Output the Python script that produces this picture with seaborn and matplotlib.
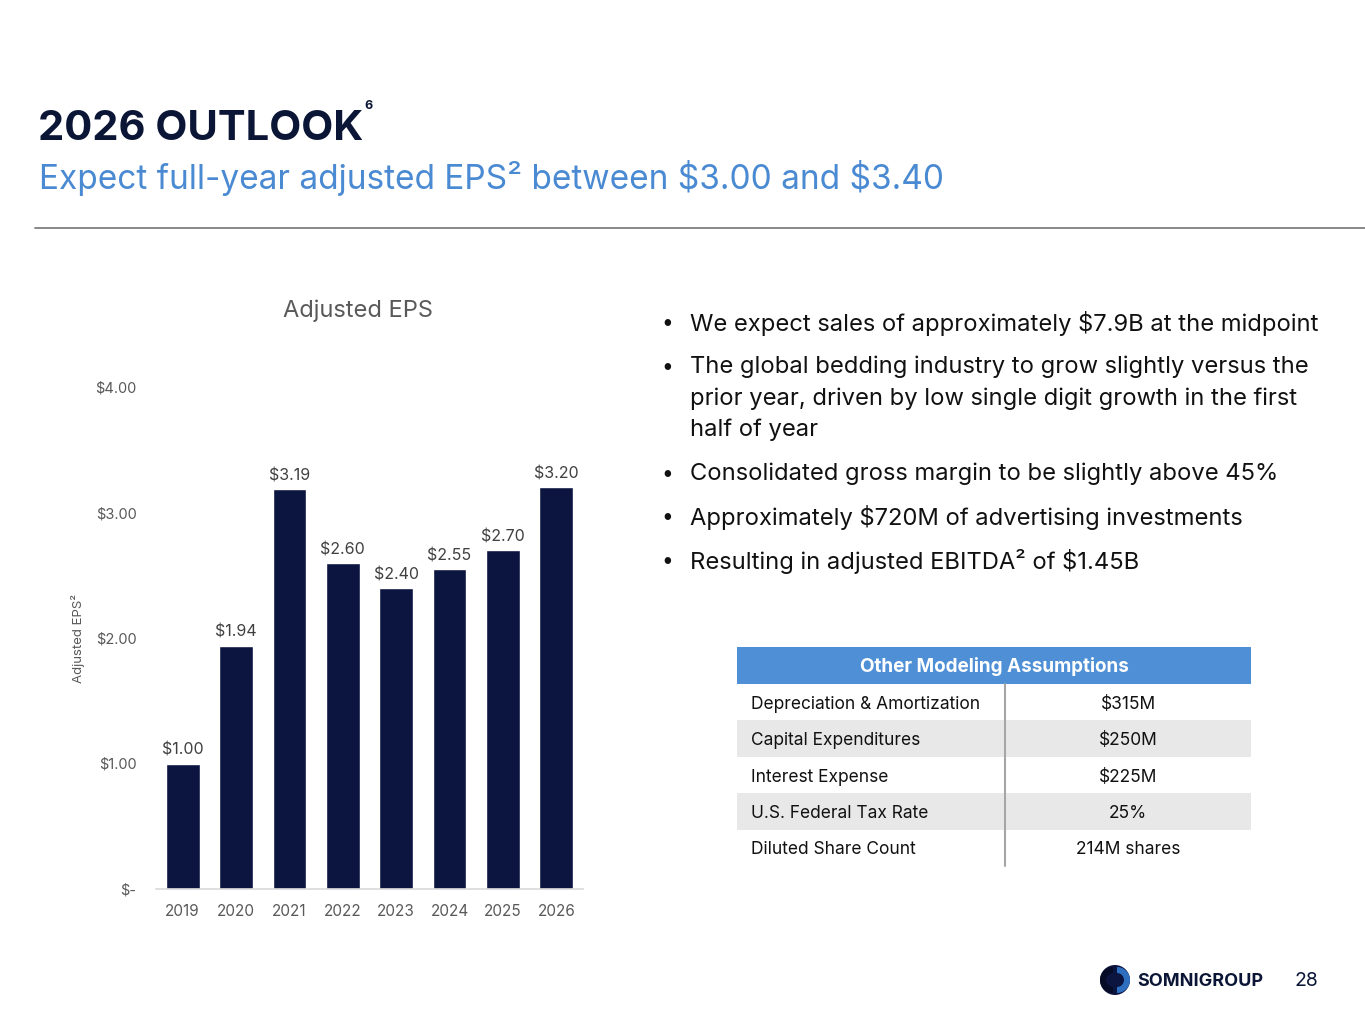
import pandas as pd
import seaborn as sns
import matplotlib.pyplot as plt
from matplotlib.patches import Rectangle, Circle, Wedge
from matplotlib.ticker import FuncFormatter

# -----------------------------
# Datos
# -----------------------------
years = ["2019", "2020", "2021", "2022", "2023", "2024", "2025", "2026"]
eps = [1.00, 1.94, 3.19, 2.60, 2.40, 2.55, 2.70, 3.20]
y_ticks = [0, 1, 2, 3, 4]

bullets = [
    ["We expect sales of approximately $7.9B at the midpoint"],
    ["The global bedding industry to grow slightly versus the",
     "prior year, driven by low single digit growth in the first",
     "half of year"],
    ["Consolidated gross margin to be slightly above 45%"],
    ["Approximately $720M of advertising investments"],
    ["Resulting in adjusted EBITDA² of $1.45B"],
]

table_header = "Other Modeling Assumptions"
table_labels = ["Depreciation & Amortization", "Capital Expenditures",
                "Interest Expense", "U.S. Federal Tax Rate", "Diluted Share Count"]
table_values = ["$315M", "$250M", "$225M", "25%", "214M shares"]

NAVY = "#0C1440"
DARK = "#0B1536"
BLUE = "#4A8AD2"
GRAY_TXT = "#595959"

sns.set_theme(style="white")
plt.rcParams['font.family'] = ['Inter', 'DejaVu Sans']
plt.rcParams['text.parse_math'] = False

W, H = 1365, 1024
fig = plt.figure(figsize=(W / 100, H / 100), dpi=100)


def box(l, t, r, b):
    return [l / W, 1 - b / H, (r - l) / W, (b - t) / H]


# -----------------------------
# Gráfico de barras
# -----------------------------
ax = fig.add_axes(box(156, 387, 583, 889))
df = pd.DataFrame({"year": years, "eps": eps})
sns.barplot(data=df, x="year", y="eps", color=NAVY, saturation=1,
            width=0.63, ax=ax)
ax.set_xlim(-0.5, 7.5)
ax.set_ylim(0, 4)
ax.set_yticks(y_ticks)
ax.yaxis.set_major_formatter(
    FuncFormatter(lambda v, p: "$-" if v == 0 else f"${v:.2f}"))
ax.tick_params(axis="y", length=0, pad=14, labelsize=10.5, labelcolor=GRAY_TXT)
ax.tick_params(axis="x", length=0, pad=11, labelsize=11, labelcolor=GRAY_TXT)
ax.set_xlabel("")
ax.set_ylabel("Adjusted EPS²", fontsize=9.5, color=GRAY_TXT)
ax.yaxis.set_label_coords(-0.166, 0.5)
for s in ["top", "right", "left"]:
    ax.spines[s].set_visible(False)
ax.spines["bottom"].set_color("#D9D9D9")
ax.spines["bottom"].set_linewidth(1.2)
ax.bar_label(ax.containers[0], labels=[f"${v:.2f}" for v in eps],
             padding=4, fontsize=11.5, color="#404040")

# -----------------------------
# Textos, tabla y logo
# -----------------------------
ov = fig.add_axes([0, 0, 1, 1])
ov.set_xlim(0, W)
ov.set_ylim(H, 0)
ov.axis("off")

ov.text(358, 311, "Adjusted EPS", fontsize=17, color=GRAY_TXT,
        ha="center", va="center")

ov.text(38, 129, "2026 OUTLOOK", fontsize=30, weight="bold", color=DARK,
        va="center")
ov.text(364, 106, "6", fontsize=9, weight="bold", color=DARK, va="center")
ov.text(39, 178, "Expect full-year adjusted EPS² between $3.00 and $3.40",
        fontsize=24.05, color=BLUE, va="center")
ov.plot([35, W], [228, 228], color="#7F7F7F", lw=1.3)

y = 323
for lines in bullets:
    ov.text(661, y, "•", fontsize=15, color="#111111", va="center")
    for line in lines:
        ov.text(690, y, line, fontsize=17.1, color="#111111", va="center")
        y += 31.7
    y += 12

# tabla
tx0, tx1, tdiv = 737, 1251, 1005
ov.add_patch(Rectangle((tx0, 647), tx1 - tx0, 37, color="#4E8FD6", lw=0))
ov.text((tx0 + tx1) / 2, 666, table_header, fontsize=13.6, weight="bold",
        color="white", ha="center", va="center")
row_h = 36.4
for i, (lab, val) in enumerate(zip(table_labels, table_values)):
    top = 684 + i * row_h
    if i % 2 == 1:
        ov.add_patch(Rectangle((tx0, top), tx1 - tx0, row_h,
                               color="#E8E8E8", lw=0))
    ov.text(751, top + row_h / 2 + 2, lab, fontsize=12.5, color="#111111",
            va="center")
    ov.text(1128, top + row_h / 2 + 2, val, fontsize=12.5, color="#111111",
            ha="center", va="center")
ov.plot([tdiv, tdiv], [684, 684 + 5 * row_h], color="#A6A6A6", lw=1.5)

# logo
ov.add_patch(Circle((1115, 980), 15, color=NAVY, lw=0))
ov.add_patch(Wedge((1117, 980), 13, 270, 90, width=6, color="#2E6FC0", lw=0))
ov.add_patch(Wedge((1113, 980), 13, 90, 270, width=6, color="#060B26", lw=0))
ov.text(1137, 981, "SOMNIGROUP", fontsize=13, weight="bold", color=DARK,
        va="center")
ov.text(1306, 981, "28", fontsize=14, color=DARK, ha="center", va="center")

plt.savefig("out.png", dpi=100)
